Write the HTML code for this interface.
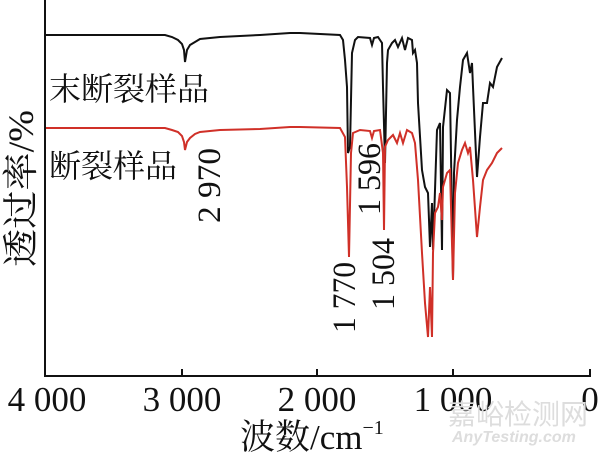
<!DOCTYPE html>
<html><head><meta charset="utf-8"><style>
html,body{margin:0;padding:0;background:#fff;}
svg{display:block}
text{font-family:"Liberation Serif","Noto Serif CJK SC",serif;fill:#111}
</style></head><body>
<svg width="600" height="454" viewBox="0 0 600 454">
<line x1="45" y1="0" x2="45" y2="377" stroke="#111" stroke-width="2"/>
<line x1="44" y1="376" x2="591" y2="376" stroke="#111" stroke-width="2"/>
<g stroke="#111" stroke-width="2">
<line x1="182" y1="376" x2="182" y2="369"/><line x1="317" y1="376" x2="317" y2="369"/>
<line x1="453" y1="376" x2="453" y2="369"/><line x1="590" y1="376" x2="590" y2="369"/>
</g>
<polyline fill="none" stroke="#111" stroke-width="2" points="46,35 120,35 165,35 172,37 178,40 182,44 184,50 185,62 187,50 190,45 195,42 200,39 220,37 260,35 290,33 300,33 340,35 343,40 345,60 347,87 348,153 350,147 352,53 355,40 358,37 370,38 372,45 374,38 378,37 382,43 383,87 385,163 387,63 388,50 392,43 395,40 398,47 402,38 405,50 408,38 412,40 413,53 415,50 417,63 418,103 422,170 425,187 428,193 430,247 432,203 433,250 437,130 440,123 442,250 443,127 447,90 450,93 453,280 454,173 457,120 460,87 463,60 467,53 470,73 472,63 473,87 477,177 480,137 483,103 487,103 490,83 493,87 497,67 502,58"/>
<polyline fill="none" stroke="#d03028" stroke-width="2" points="46,128 120,128 165,128 172,130 178,132 182,136 184,142 185,150 187,142 190,138 195,134 200,132 220,130 260,129 290,127 300,127 340,128 345,137 347,187 349,257 351,153 353,133 360,130 370,131 372,138 374,131 380,130 383,153 384,230 385,147 388,140 393,135 397,143 400,133 403,143 407,130 412,133 415,143 418,180 422,253 425,303 428,337 430,287 432,337 433,253 435,213 438,207 440,193 442,220 443,187 447,173 450,170 453,280 455,193 458,163 462,150 465,143 468,153 470,147 473,180 477,237 480,207 483,180 487,170 492,163 497,153 502,148"/>
<text x="49" y="100" font-size="32">末断裂样品</text>
<text x="49" y="177" font-size="32">断裂样品</text>
<text transform="translate(220,223) rotate(-90)" font-size="33" textLength="75" lengthAdjust="spacingAndGlyphs">2 970</text>
<text transform="translate(355,333) rotate(-90)" font-size="33" textLength="71" lengthAdjust="spacingAndGlyphs">1 770</text>
<text transform="translate(380,215) rotate(-90)" font-size="33" textLength="72" lengthAdjust="spacingAndGlyphs">1 596</text>
<text transform="translate(394,310) rotate(-90)" font-size="33" textLength="72" lengthAdjust="spacingAndGlyphs">1 504</text>
<text transform="translate(33,267) rotate(-90)" font-size="36" textLength="157" lengthAdjust="spacingAndGlyphs">透过率/%</text>
<g font-size="35" text-anchor="middle">
<text x="47" y="411">4 000</text><text x="182" y="411">3 000</text>
<text x="317" y="411">2 000</text><text x="453" y="411">1 000</text>
<text x="590" y="411">0</text>
</g>
<text x="240" y="449" font-size="35">波数/cm<tspan font-size="20" dy="-15">−1</tspan></text>
<text x="448" y="424" font-size="28" style="fill:#ddd;font-family:'Noto Sans CJK SC',sans-serif">嘉峪检测网</text>
<text x="452" y="442" font-size="16" font-style="italic" font-weight="bold" style="fill:#ddd;font-family:'Liberation Sans',sans-serif">AnyTesting.com</text>
</svg>
</body></html>
